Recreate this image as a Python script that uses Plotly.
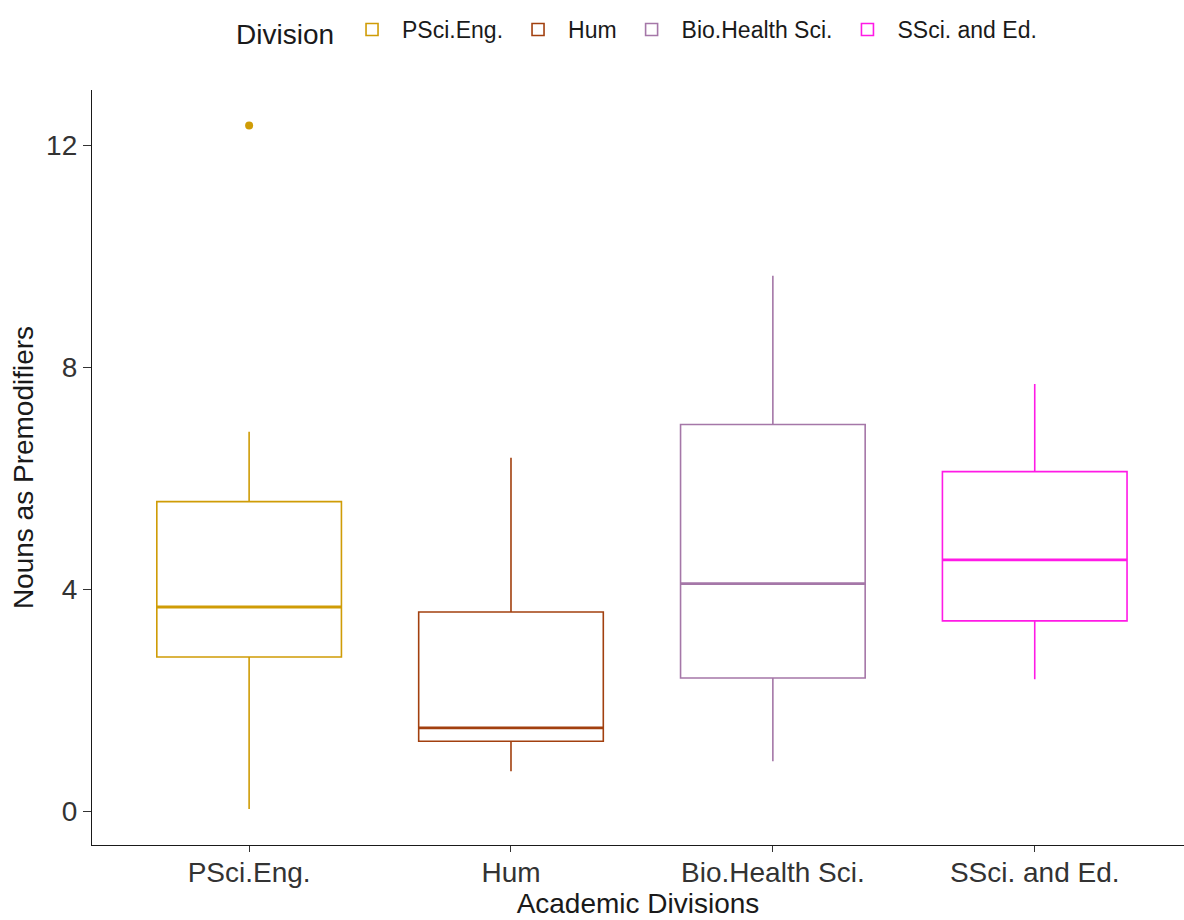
import plotly.graph_objects as go

divisions = ["PSci.Eng.", "Hum", "Bio.Health Sci.", "SSci. and Ed."]
colors = ["#CF9C06", "#A2400F", "#A577A8", "#FF1AE6"]

lower_whisker = [0.04, 0.72, 0.90, 2.38]
q1_values = [2.78, 1.26, 2.40, 3.43]
medians = [3.68, 1.50, 4.10, 4.53]
q3_values = [5.58, 3.59, 6.97, 6.12]
upper_whisker = [6.84, 6.37, 9.65, 7.70]

outlier_division = ["PSci.Eng."]
outlier_values = [12.36]

BOX_WIDTH = 0.705
X_RANGE = [-0.6, 3.57]

fig = go.Figure()
for i, name in enumerate(divisions):
    fig.add_trace(go.Box(
        name=name,
        x=[name],
        q1=[q1_values[i]],
        median=[medians[i]],
        q3=[q3_values[i]],
        lowerfence=[lower_whisker[i]],
        upperfence=[upper_whisker[i]],
        line=dict(color=colors[i], width=1.6),
        fillcolor="white",
        width=BOX_WIDTH,
        whiskerwidth=0,
        boxpoints=False,
        hoverinfo="skip",
    ))

# heavier median bars, drawn on a hidden numeric axis aligned with the categories
for i, m in enumerate(medians):
    fig.add_trace(go.Scatter(
        x=[i - BOX_WIDTH / 2, i + BOX_WIDTH / 2], y=[m, m],
        mode="lines", line=dict(color=colors[i], width=2.8),
        xaxis="x2", showlegend=False, hoverinfo="skip",
    ))

fig.add_trace(go.Scatter(
    x=outlier_division, y=outlier_values, mode="markers",
    marker=dict(color=colors[0], size=8),
    showlegend=False, hoverinfo="skip",
))

FONT = "Liberation Sans, Arial, sans-serif"
tick_font = dict(family=FONT, size=28, color="#333333")
title_font = dict(family=FONT, size=28, color="#1A1A1A")

fig.update_layout(
    width=1184, height=920,
    margin=dict(l=92, r=0, t=90, b=75),
    paper_bgcolor="white", plot_bgcolor="white",
    font=dict(family=FONT),
    legend=dict(
        orientation="h", x=0.5, xanchor="center",
        y=1 - 8 / 920, yanchor="top", yref="container",
        title=dict(text="Division", font=dict(family=FONT, size=28, color="#1A1A1A")),
        font=dict(family=FONT, size=23, color="#1A1A1A"),
        traceorder="normal",
        itemclick=False,
        itemwidth=50,
    ),
    xaxis=dict(
        range=X_RANGE,
        showline=True, linecolor="#1A1A1A", linewidth=1.3,
        ticks="outside", ticklen=6, tickcolor="#333333",
        tickfont=tick_font, ticklabelstandoff=-4,
        showgrid=False, zeroline=False,
        title=dict(text="Academic Divisions", font=title_font, standoff=5),
        fixedrange=True,
    ),
    xaxis2=dict(
        range=X_RANGE, overlaying="x", visible=False, fixedrange=True,
    ),
    yaxis=dict(
        range=[-0.61, 13.0],
        tickvals=[0, 4, 8, 12],
        showline=True, linecolor="#1A1A1A", linewidth=1.3,
        ticks="outside", ticklen=8, tickcolor="#333333",
        tickfont=tick_font,
        showgrid=False, zeroline=False,
        title=dict(text="Nouns as Premodifiers", font=title_font, standoff=4),
        fixedrange=True,
    ),
    showlegend=True,
)

fig.write_html("out.html")
